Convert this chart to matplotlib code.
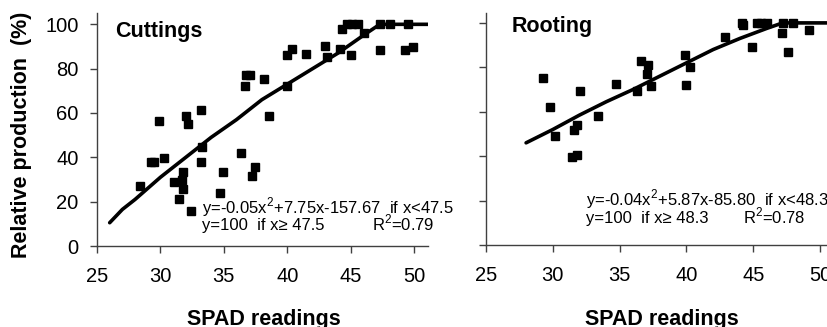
import matplotlib
matplotlib.use("Agg")
from matplotlib import pyplot as plt

plt.rcParams['font.family'] = ['Liberation Sans', 'DejaVu Sans']
plt.rcParams['mathtext.fontset'] = 'custom'
plt.rcParams['mathtext.rm'] = 'Liberation Sans'

# cuttings panel
cut_x = [28.4, 29.25, 29.5, 29.9, 30.3, 31.1, 31.5, 31.7, 31.8, 31.8, 32.0, 32.15, 32.45,
         33.2, 33.3, 33.2, 34.7, 34.95, 36.35, 36.7, 36.75, 37.1, 37.2, 37.45, 38.2, 38.6,
         39.95, 39.95, 40.35, 41.45, 42.95, 43.1, 44.2, 44.35, 44.7, 45.05, 45.1, 45.6,
         46.05, 47.3, 47.3, 48.1, 49.5, 49.25, 49.9]
cut_y = [27.2, 37.7, 37.7, 56.2, 39.5, 29.0, 21.1, 29.8, 33.2, 25.9, 58.8, 55.0, 15.9,
         61.2, 44.5, 37.7, 23.9, 33.4, 42.1, 72.3, 77.3, 77.3, 31.4, 35.8, 75.5, 58.8,
         72.2, 86.0, 89.0, 86.6, 90.4, 85.4, 89.0, 97.9, 100, 86.0, 100, 100,
         95.9, 88.6, 100, 100, 100, 88.6, 89.6]
cut_fit_x = [26, 27, 28, 30, 32, 34, 36, 38, 40, 42, 44, 45, 46, 47.3, 51.1]
cut_fit_y = [10.5, 16.5, 21, 31, 40, 49, 57, 66, 73, 80, 87, 91, 95, 100, 100]

# rooting panel
root_x = [29.3, 29.8, 30.2, 31.45, 31.8, 31.55, 31.8, 32.0, 33.35, 34.7, 36.3, 36.6,
          37.15, 37.05, 37.35, 39.9, 40.0, 40.25, 42.9, 44.15, 44.25, 44.9, 45.25, 45.6,
          46.0, 47.15, 47.25, 47.6, 48.0, 49.2]
root_y = [75.0, 62.0, 48.9, 39.8, 40.3, 52.0, 54.0, 69.5, 58.3, 72.5, 69.5, 83.0,
          81.2, 76.8, 71.4, 85.6, 72.0, 80.0, 93.7, 100, 99.1, 89.3, 100, 100,
          100, 95.5, 100, 86.8, 100, 96.7]
root_fit_x = [28, 30, 32, 34, 36, 38, 40, 42, 44, 46, 47.2, 50.5]
root_fit_y = [46, 52, 58.5, 64.5, 70, 76, 82, 88, 93, 97.5, 100, 100]

xticks = [25, 30, 35, 40, 45, 50]
yticks = [0, 20, 40, 60, 80, 100]

W, H = 827, 327
fig = plt.figure(figsize=(8.27, 3.27), dpi=100)

ax1 = fig.add_axes([97/W, 0.2477, 331/W, 0.7125])
ax2 = fig.add_axes([486/W, 0.2508, 341/W, 0.7104])

for ax, xs, ys, fx, fy, xmax, ymax in [(ax1, cut_x, cut_y, cut_fit_x, cut_fit_y, 51.1, 105.1),
                                       (ax2, root_x, root_y, root_fit_x, root_fit_y, 50.52, 104.6)]:
    ax.plot(fx, fy, color='black', lw=2.6, solid_capstyle='round', zorder=2)
    ax.plot(xs, ys, 's', color='black', ms=5.6, zorder=3)
    ax.set_xlim(25, xmax)
    ax.set_ylim(0, ymax)
    ax.set_xticks(xticks)
    ax.set_yticks(yticks)
    for s in ['top', 'right']:
        ax.spines[s].set_visible(False)
    for s in ['left', 'bottom']:
        ax.spines[s].set_color('#404040')
        ax.spines[s].set_linewidth(1.0)
    ax.tick_params(direction='out', length=4.8, width=1.0, color='#404040', labelsize=14.5)
    ax.tick_params(axis='x', pad=10.5)
    ax.tick_params(axis='y', pad=8.5)

ax2.set_yticklabels([])

def ft(x, y, s, **kw):
    fig.text(x/W, 1 - y/H, s, va='baseline', **kw)

ft(115, 36.7, 'Cuttings', fontsize=15.5, fontweight='bold')
ft(512, 32.3, 'Rooting', fontsize=15.5, fontweight='bold')

ft(202, 213, r'y=-0.05x$^\mathregular{2}$+7.75x-157.67  if x<47.5', fontsize=12)
ft(202, 230, 'y=100  if x\u2265 47.5', fontsize=12)
ft(372, 230, r'R$^\mathregular{2}$=0.79', fontsize=12)

ft(586, 205, r'y=-0.04x$^\mathregular{2}$+5.87x-85.80  if x<48.3', fontsize=12)
ft(586, 223.5, 'y=100  if x\u2265 48.3', fontsize=12)
ft(743, 223.5, r'R$^\mathregular{2}$=0.78', fontsize=12)

ft(263.5, 325, 'SPAD readings', fontsize=15.5, fontweight='bold', ha='center')
ft(661.7, 325, 'SPAD readings', fontsize=15.5, fontweight='bold', ha='center')
fig.text(22/W, 0.587, 'Relative production  (%)', fontsize=15.5, fontweight='bold',
         rotation=90, ha='center', va='center')

fig.savefig("out.png", dpi=100)
